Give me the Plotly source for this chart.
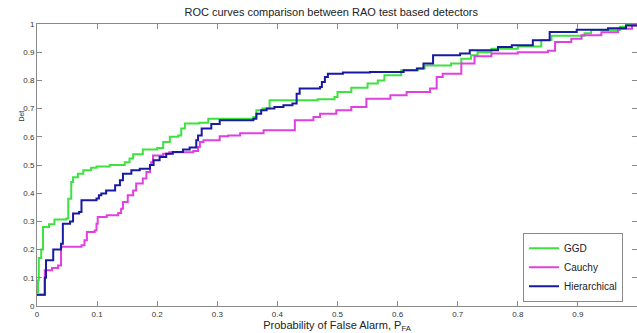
import plotly.graph_objects as go

# GGD
ggd_x = [0, 0.0017, 0.003, 0.007, 0.01, 0.02, 0.029, 0.049, 0.052, 0.057, 0.06, 0.068, 0.077, 0.09, 0.099,
         0.121, 0.146, 0.154, 0.16, 0.176, 0.2, 0.21, 0.221, 0.235, 0.24, 0.246, 0.27, 0.285, 0.36, 0.365,
         0.375, 0.387, 0.467, 0.495, 0.5, 0.523, 0.55, 0.567, 0.578, 0.606, 0.634, 0.645, 0.689, 0.706,
         0.722, 0.733, 0.756, 0.8, 0.839, 0.856, 0.911, 0.922, 0.97, 0.98, 1.0]
ggd_y = [0.05, 0.09, 0.17, 0.2, 0.28, 0.29, 0.307, 0.31, 0.38, 0.44, 0.457, 0.469, 0.481, 0.49, 0.495,
         0.5, 0.51, 0.523, 0.538, 0.555, 0.56, 0.582, 0.6, 0.605, 0.629, 0.647, 0.65, 0.664, 0.67, 0.694,
         0.7, 0.73, 0.733, 0.741, 0.759, 0.774, 0.789, 0.8, 0.818, 0.836, 0.842, 0.853, 0.86, 0.877,
         0.889, 0.9, 0.912, 0.92, 0.943, 0.958, 0.967, 0.979, 0.99, 1.0, 1.0]

# Cauchy
cau_x = [0, 0.013, 0.025, 0.035, 0.04, 0.074, 0.079, 0.083, 0.096, 0.099, 0.101, 0.116, 0.135, 0.14,
         0.143, 0.151, 0.16, 0.165, 0.176, 0.182, 0.188, 0.19, 0.193, 0.21, 0.22, 0.26, 0.268, 0.271,
         0.277, 0.304, 0.318, 0.338, 0.377, 0.429, 0.46, 0.471, 0.498, 0.523, 0.548, 0.588, 0.615,
         0.654, 0.665, 0.675, 0.706, 0.728, 0.756, 0.8, 0.85, 0.862, 0.889, 0.906, 0.939, 0.967, 0.99, 1.0]
cau_y = [0.04, 0.127, 0.135, 0.144, 0.21, 0.215, 0.233, 0.262, 0.268, 0.292, 0.316, 0.322, 0.33, 0.345,
         0.369, 0.393, 0.41, 0.434, 0.452, 0.475, 0.5, 0.51, 0.534, 0.54, 0.545, 0.55, 0.564, 0.582,
         0.588, 0.602, 0.605, 0.613, 0.623, 0.659, 0.67, 0.682, 0.694, 0.706, 0.735, 0.747, 0.759,
         0.771, 0.812, 0.824, 0.86, 0.886, 0.895, 0.9, 0.905, 0.936, 0.948, 0.96, 0.971, 0.983, 0.996, 1.0]

# Hierarchical
hie_x = [0, 0.013, 0.015, 0.027, 0.04, 0.043, 0.055, 0.06, 0.07, 0.074, 0.099, 0.103, 0.107, 0.115,
         0.13, 0.138, 0.143, 0.157, 0.171, 0.188, 0.194, 0.204, 0.215, 0.226, 0.243, 0.254, 0.265,
         0.268, 0.274, 0.29, 0.304, 0.36, 0.365, 0.373, 0.382, 0.395, 0.41, 0.425, 0.432, 0.437, 0.471,
         0.474, 0.479, 0.484, 0.509, 0.554, 0.61, 0.632, 0.643, 0.659, 0.704, 0.72, 0.767, 0.79, 0.825,
         0.853, 0.898, 0.95, 0.98, 1.0]
hie_y = [0.04, 0.1, 0.162, 0.2, 0.221, 0.292, 0.3, 0.328, 0.333, 0.375, 0.381, 0.393, 0.399, 0.41,
         0.428, 0.446, 0.469, 0.481, 0.487, 0.5, 0.517, 0.528, 0.54, 0.546, 0.555, 0.562, 0.588,
         0.605, 0.629, 0.645, 0.659, 0.664, 0.682, 0.694, 0.7, 0.706, 0.712, 0.718, 0.753, 0.771, 0.777,
         0.794, 0.812, 0.824, 0.828, 0.83, 0.836, 0.842, 0.86, 0.889, 0.895, 0.907, 0.918, 0.925, 0.942,
         0.972, 0.98, 0.985, 0.995, 1.0]

x_ticks = [0, 0.1, 0.2, 0.3, 0.4, 0.5, 0.6, 0.7, 0.8, 0.9]
y_ticks = [0, 0.1, 0.2, 0.3, 0.4, 0.5, 0.6, 0.7, 0.8, 0.9, 1]

fig = go.Figure()
fig.add_trace(go.Scatter(x=ggd_x, y=ggd_y, mode="lines", name="GGD", line_shape="hv",
                         line=dict(color="#3ee23e", width=2)))
fig.add_trace(go.Scatter(x=cau_x, y=cau_y, mode="lines", name="Cauchy", line_shape="hv",
                         line=dict(color="#e040e0", width=2)))
fig.add_trace(go.Scatter(x=hie_x, y=hie_y, mode="lines", name="Hierarchical", line_shape="hv",
                         line=dict(color="#1a1aa0", width=2)))

axis_common = dict(showgrid=False, zeroline=False, showline=True, linecolor="#8a8a8a", linewidth=1,
                   mirror="ticks", ticks="inside", ticklen=5, tickcolor="#8a8a8a",
                   tickfont=dict(family="Liberation Sans, Arial", size=8, color="#333"))

fig.update_layout(
    width=637, height=333,
    margin=dict(l=37, r=0, t=24, b=27),
    paper_bgcolor="white", plot_bgcolor="white",
    title=dict(text="ROC curves comparison between RAO test based detectors",
               x=0.52, xanchor="center", y=0.975, yanchor="top",
               font=dict(family="Liberation Sans, Arial", size=11, color="#222")),
    xaxis=dict(range=[0, 0.9983], tickvals=x_ticks, ticktext=[f"{v:g}" for v in x_ticks],
               title=dict(text="Probability of False Alarm, P<sub>FA</sub>", standoff=2,
                          font=dict(family="Liberation Sans, Arial", size=11, color="#222")),
               **axis_common),
    yaxis=dict(range=[0, 1], tickvals=y_ticks, ticktext=[f"{v:g}" for v in y_ticks], **axis_common),
    legend=dict(x=0.81, y=0.26, xanchor="left", yanchor="top", bgcolor="white",
                bordercolor="#8a8a8a", borderwidth=1, tracegroupgap=0, itemwidth=30,
                font=dict(family="Liberation Sans, Arial", size=10, color="#222")),
    showlegend=True,
)

fig.add_annotation(text="Det", xref="paper", yref="paper", x=-0.035, y=0.7, textangle=-90,
                   showarrow=False, font=dict(family="Liberation Sans, Arial", size=7, color="#333"))

fig.write_html("out.html")
